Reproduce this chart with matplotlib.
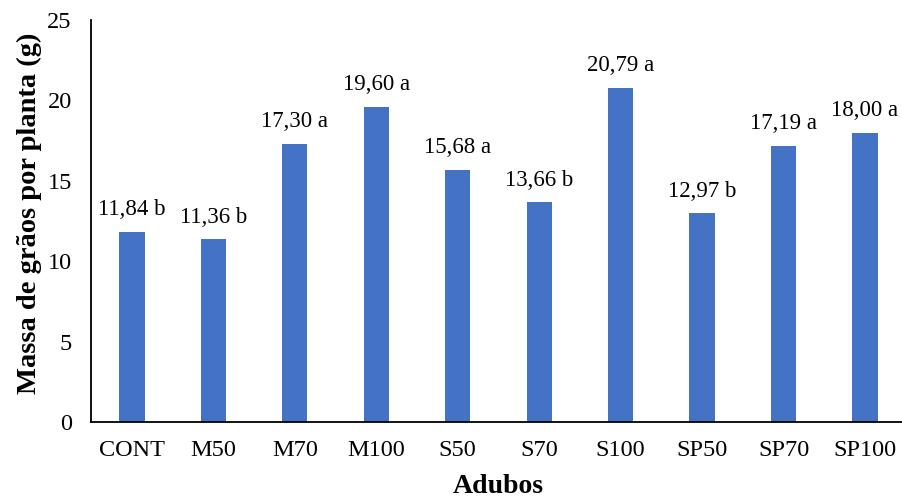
import matplotlib.pyplot as plt

# dados
adubos = ['CONT', 'M50', 'M70', 'M100', 'S50', 'S70', 'S100', 'SP50', 'SP70', 'SP100']
massa = [11.84, 11.36, 17.30, 19.60, 15.68, 13.66, 20.79, 12.97, 17.19, 18.00]
letras = ['b', 'b', 'a', 'a', 'a', 'b', 'a', 'b', 'a', 'a']

plt.rcParams['font.family'] = ['Liberation Serif', 'DejaVu Serif']

fig = plt.figure(figsize=(9.03, 4.99), dpi=100)
ax = fig.add_axes([0.101, 0.154, 0.902, 0.806])

x = range(len(adubos))
ax.bar(x, massa, width=0.31, color='#4472C4')

for i, (v, l) in enumerate(zip(massa, letras)):
    rotulo = f'{v:.2f}'.replace('.', ',') + ' ' + l
    ax.annotate(rotulo, (i, v), xytext=(0, 12), textcoords='offset points',
                ha='center', va='baseline', fontsize=16.5)

ax.set_xlim(-0.5, len(adubos) - 0.5)
ax.set_ylim(0, 25)
ax.set_yticks(range(0, 26, 5))
ax.set_xticks(list(x))
ax.set_xticklabels(adubos)
ax.tick_params(axis='both', labelsize=17.5, length=0)
ax.tick_params(axis='x', pad=13)
ax.tick_params(axis='y', pad=14)

ax.spines['top'].set_visible(False)
ax.spines['right'].set_visible(False)
ax.spines['left'].set_linewidth(1.3)
ax.spines['bottom'].set_linewidth(1.3)

ax.set_xlabel('Adubos', fontsize=20, fontweight='bold', labelpad=9)
ax.set_ylabel('Massa de grãos por planta (g)', fontsize=20.5, fontweight='bold')
ax.yaxis.set_label_coords(-0.060, 0.52)

fig.savefig('out.png', dpi=100)
